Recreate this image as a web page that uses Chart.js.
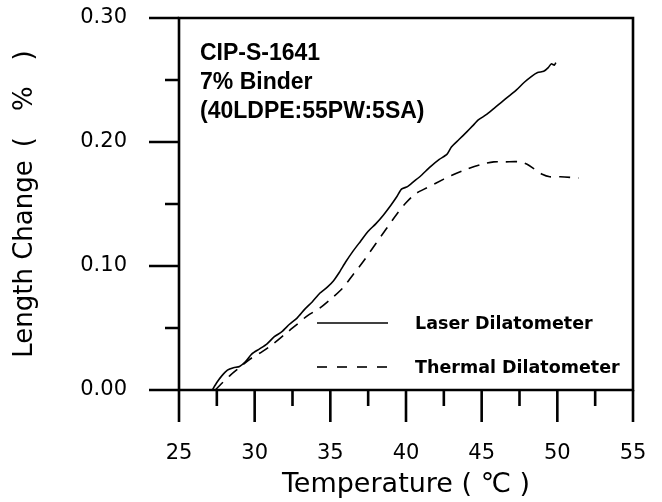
<!DOCTYPE html>
<html><head><meta charset="utf-8">
<script src="https://cdn.jsdelivr.net/npm/chart.js@4.4.1/dist/chart.umd.min.js"></script>
<style>html,body{margin:0;padding:0;background:#fff;}#wrap{width:662px;height:502px;}</style>
</head><body><div id="wrap"><canvas id="c" width="662" height="502"></canvas></div>
<script>
// ---- data ----
const laserTemp = [27.2,27.5,27.8,28.2,28.6,29.0,29.4,29.8,30.3,30.8,31.3,31.8,32.3,32.8,33.3,33.8,34.3,34.8,35.2,35.6,36.0,36.5,37.0,37.5,38.0,38.5,39.0,39.4,39.7,40.1,40.5,41.0,41.6,42.2,42.7,43.0,43.5,44.0,44.4,44.8,45.3,45.8,46.3,46.8,47.3,47.8,48.3,48.7,49.1,49.4,49.6,49.8,49.9];
const laserVal  = [0.000,0.006,0.011,0.016,0.018,0.019,0.023,0.029,0.033,0.037,0.043,0.047,0.053,0.058,0.065,0.071,0.078,0.083,0.088,0.095,0.103,0.112,0.120,0.128,0.134,0.141,0.149,0.156,0.162,0.164,0.168,0.173,0.180,0.186,0.190,0.196,0.202,0.208,0.213,0.218,0.222,0.227,0.232,0.237,0.242,0.248,0.253,0.256,0.257,0.260,0.263,0.262,0.264];
const thermalTemp = [27.4,27.8,28.4,29.0,29.7,30.5,31.2,32.0,32.8,33.5,34.3,35.0,35.8,36.5,37.2,38.0,38.7,39.4,40.0,40.6,41.2,42.0,43.0,44.0,45.0,45.8,46.5,47.5,48.0,48.5,49.0,49.5,50.2,51.4];
const thermalVal  = [0.000,0.005,0.012,0.018,0.025,0.031,0.037,0.045,0.053,0.060,0.066,0.073,0.082,0.093,0.104,0.118,0.130,0.142,0.151,0.158,0.162,0.167,0.173,0.178,0.182,0.184,0.184,0.184,0.182,0.178,0.174,0.172,0.172,0.171];
const xMajorTicks = [25,30,35,40,45,50,55];
const xMinorTicks = [27.5,32.5,37.5,42.5,47.5,52.5];
const yMajorTicks = [0.00,0.10,0.20,0.30];
const yMinorTicks = [0.05,0.15,0.25];
const seriesNames = ['Laser Dilatometer','Thermal Dilatometer'];
const noteLines = ['CIP-S-1641','7% Binder','(40LDPE:55PW:5SA)'];
const xTitle = 'Temperature ( \u2103 )';
const yTitle = 'Length Change\u2002(\u2003%\u2003)';

const FONT = '"DejaVu Sans", "Liberation Sans", Arial, sans-serif';
const FONT2 = '"Liberation Sans", Arial, sans-serif';

function pts(xs, ys){ return xs.map((x,i)=>({x:x, y:ys[i]})); }

const framePlugin = {
  id:'frame',
  afterDraw(chart){
    const ctx = chart.ctx, xs = chart.scales.x, ys = chart.scales.y;
    const x0 = xs.getPixelForValue(xMajorTicks[0]), x1 = xs.getPixelForValue(xMajorTicks[xMajorTicks.length-1]);
    const y0 = ys.getPixelForValue(yMajorTicks[0]), y1 = ys.getPixelForValue(yMajorTicks[yMajorTicks.length-1]);
    ctx.save();
    ctx.strokeStyle = '#000'; ctx.lineWidth = 2.6; ctx.lineCap = 'butt';
    ctx.beginPath();
    ctx.moveTo(x0, y1); ctx.lineTo(x0, y0); ctx.lineTo(x1, y0); ctx.lineTo(x1, y1); ctx.lineTo(x0, y1);
    ctx.closePath();
    ctx.stroke();
    ctx.beginPath();
    yMajorTicks.forEach(v=>{ const p = ys.getPixelForValue(v); ctx.moveTo(x0, p); ctx.lineTo(x0-30, p); });
    yMinorTicks.forEach(v=>{ const p = ys.getPixelForValue(v); ctx.moveTo(x0, p); ctx.lineTo(x0-14, p); });
    xMajorTicks.forEach(v=>{ const p = xs.getPixelForValue(v); ctx.moveTo(p, y0); ctx.lineTo(p, y0+32); });
    xMinorTicks.forEach(v=>{ const p = xs.getPixelForValue(v); ctx.moveTo(p, y0); ctx.lineTo(p, y0+16); });
    ctx.stroke();

    // annotation
    ctx.fillStyle = '#000';
    ctx.font = 'bold 23px ' + FONT2;
    ctx.textAlign = 'left'; ctx.textBaseline = 'alphabetic';
    noteLines.forEach((t,i)=> ctx.fillText(t, x0+21, 60 + i*29));

    // legend
    const ds = chart.data.datasets;
    const lx0 = 317, lx1 = 388, ly = [323, 367];
    ds.forEach((d,i)=>{
      ctx.beginPath();
      ctx.lineWidth = 1.6;
      ctx.setLineDash(i===1 ? [10,10] : []);
      ctx.moveTo(lx0, ly[i]); ctx.lineTo(lx1, ly[i]); ctx.stroke();
      ctx.setLineDash([]);
      ctx.font = 'bold 17.5px ' + FONT;
      ctx.textBaseline = 'middle';
      ctx.fillText(d.label, 415, ly[i]+1);
    });
    ctx.restore();
  }
};

new Chart(document.getElementById('c'), {
  type:'line',
  data:{ datasets:[
    { label: seriesNames[0], data: pts(laserTemp, laserVal), borderColor:'#000', borderWidth:1.6, pointRadius:0, fill:false, tension:0.2 },
    { label: seriesNames[1], data: pts(thermalTemp, thermalVal), borderColor:'#000', borderWidth:1.6, borderDash:[11,8], pointRadius:0, fill:false, tension:0.3 }
  ]},
  options:{
    responsive:false, animation:false, devicePixelRatio:1,
    layout:{ padding:{ top:18, right:29, left:0, bottom:0 } },
    plugins:{ legend:{display:false}, tooltip:{enabled:false} },
    scales:{
      x:{ type:'linear', position:'bottom', min:25, max:55,
          afterFit(s){ s.height = 112; },
          grid:{ display:false, drawTicks:true, tickLength:51 }, border:{ display:false },
          ticks:{ stepSize:5, color:'#000', font:{ family:FONT, size:21 }, padding:0, maxRotation:0, autoSkip:false },
          title:{ display:true, text:xTitle, color:'#000', font:{ family:FONT, size:27 }, padding:{ top:0, bottom:1 } } },
      y:{ type:'linear', min:0, max:0.3,
          afterFit(s){ s.width = 179; },
          grid:{ display:false, drawTicks:true, tickLength:52 }, border:{ display:false },
          ticks:{ stepSize:0.1, color:'#000', font:{ family:FONT, size:21 }, padding:0, callback:v=>v.toFixed(2) },
          title:{ display:true, text:yTitle, color:'#000', font:{ family:FONT, size:26 }, padding:{ top:10, bottom:0 } } }
    }
  },
  plugins:[framePlugin]
});
</script></body></html>
